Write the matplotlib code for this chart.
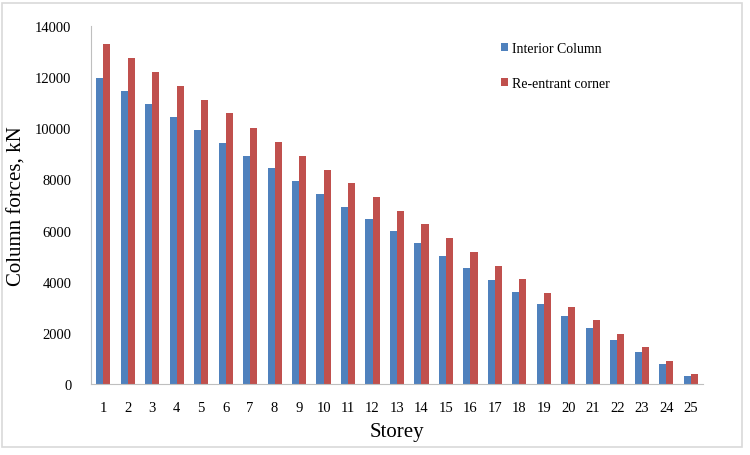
import numpy as np
import matplotlib
matplotlib.use("Agg")
import matplotlib.pyplot as plt
from matplotlib.patches import Rectangle

storeys = list(range(1, 26))
interior = [11950, 11450, 10940, 10430, 9920, 9420, 8910, 8430, 7920, 7420,
            6940, 6470, 5990, 5520, 5020, 4550, 4080, 3600, 3125, 2655,
            2180, 1710, 1240, 770, 310]
reentrant = [13280, 12760, 12210, 11660, 11120, 10580, 10030, 9480, 8930, 8380,
             7870, 7310, 6760, 6240, 5700, 5180, 4630, 4100, 3570, 3020,
             2510, 1970, 1440, 900, 380]

plt.rcParams['font.family'] = ['Liberation Serif', 'DejaVu Serif']

fig = plt.figure(figsize=(7.5, 4.56), dpi=100)
ax = fig.add_axes([91 / 750, 1 - 385 / 456, 612 / 750, 358 / 456])

x = np.arange(len(storeys))
w = 0.29
ax.bar(x - w / 2, interior, w, color='#4F81BD', label='Interior Column')
ax.bar(x + w / 2, reentrant, w, color='#C0504D', label='Re-entrant corner')

ax.set_xlim(-0.5, len(storeys) - 0.5)
ax.set_ylim(0, 14000)
ax.set_yticks(np.arange(0, 14001, 2000))
ax.set_xticks(x)
ax.set_xticklabels([str(s) for s in storeys])
ax.tick_params(length=0, labelsize=10.5)
ax.tick_params(axis='x', pad=12)
ax.tick_params(axis='y', pad=14)

for s in ['top', 'right']:
    ax.spines[s].set_visible(False)
for s in ['left', 'bottom']:
    ax.spines[s].set_color('#BFBFBF')

ax.set_xlabel('Storey', fontsize=15, labelpad=6)
ax.set_ylabel('Column forces, kN', fontsize=15, labelpad=6)

ax.legend(loc='upper left', bbox_to_anchor=(0.65, 0.99), frameon=False,
          fontsize=10, handlelength=0.5, handleheight=0.5, handletextpad=0.3,
          labelspacing=1.6)

fig.patches.append(Rectangle((2 / 750, 1 - 448 / 456), 740 / 750, 444 / 456,
                             transform=fig.transFigure, fill=False,
                             edgecolor='#D9D9D9', linewidth=1.2))

fig.savefig('out.png', dpi=100)
